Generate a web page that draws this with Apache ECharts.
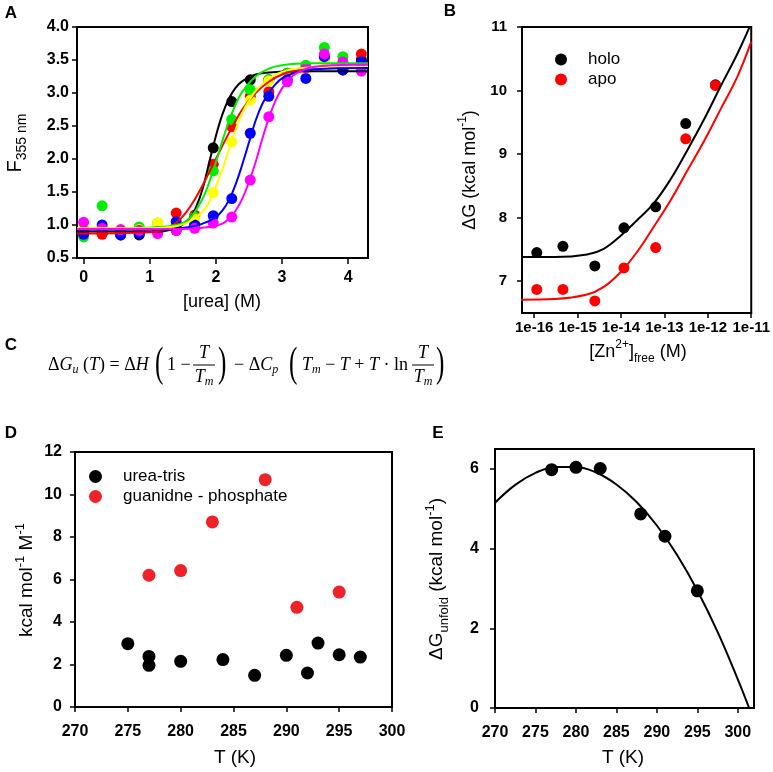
<!DOCTYPE html>
<html>
<head>
<meta charset="utf-8">
<script src="https://cdn.jsdelivr.net/npm/echarts@6.0.0/dist/echarts.min.js"></script>
<style>
html,body{margin:0;padding:0;background:#fff;}
#chart{width:773px;height:772px;}
</style>
</head>
<body>
<div id="chart"></div>
<script>
// ---------------- Panel A : urea denaturation ----------------
const ureaConc = [0, 0.28, 0.56, 0.84, 1.12, 1.4, 1.68, 1.96, 2.24, 2.52, 2.8, 3.08, 3.36, 3.64, 3.92, 4.2];
const fBlack   = [0.88,0.88,0.85,0.85,0.90,0.92,1.00,2.17,2.87,3.20,3.20,3.30,3.35,3.52,3.35,3.50];
const fRed     = [0.90,0.86,0.88,0.88,0.90,1.18,1.15,1.92,2.49,2.95,3.02,3.28,3.35,3.55,3.45,3.59];
const fGreen   = [0.82,1.29,0.92,0.97,1.03,1.00,1.12,1.82,2.60,3.05,3.20,3.30,3.42,3.69,3.55,3.40];
const fYellow  = [0.95,0.95,0.92,0.93,1.03,0.95,1.09,1.49,2.26,2.89,3.18,3.25,3.33,3.50,3.45,3.40];
const fBlue    = [0.86,1.00,0.85,0.87,0.90,1.05,1.00,1.14,1.40,2.39,2.95,3.20,3.22,3.55,3.35,3.47];
const fMagenta = [1.04,0.95,0.93,0.92,0.87,0.92,0.95,1.03,1.12,1.68,2.64,3.17,3.38,3.59,3.47,3.33];

const fitBlackX   = [-0.1,1.0,1.4,1.6,1.7,1.8,1.9,2.0,2.1,2.2,2.3,2.4,2.6,2.8,3.2,4.3];
const fitBlackY   = [0.90,0.90,0.95,1.10,1.27,1.55,1.95,2.35,2.68,2.92,3.08,3.18,3.28,3.31,3.33,3.33];
const fitRedX     = [-0.1,1.0,1.3,1.5,1.7,1.9,2.0,2.2,2.4,2.6,2.8,3.0,3.3,3.6,4.3];
const fitRedY     = [0.87,0.89,0.97,1.13,1.42,1.80,2.00,2.40,2.75,3.00,3.17,3.28,3.36,3.39,3.40];
const fitGreenX   = [-0.1,1.0,1.4,1.6,1.8,1.9,2.0,2.1,2.2,2.3,2.4,2.6,2.8,3.0,3.4,4.3];
const fitGreenY   = [0.95,0.96,1.00,1.10,1.40,1.65,1.95,2.28,2.58,2.83,3.02,3.25,3.37,3.42,3.45,3.45];
const fitYellowX  = [-0.1,1.0,1.4,1.6,1.8,1.9,2.0,2.1,2.2,2.3,2.4,2.5,2.6,2.8,3.0,3.3,4.3];
const fitYellowY  = [0.95,0.95,0.98,1.05,1.20,1.35,1.58,1.85,2.15,2.45,2.70,2.88,3.03,3.22,3.32,3.38,3.40];
const fitBlueX    = [-0.1,1.2,1.6,1.8,2.0,2.1,2.2,2.3,2.4,2.5,2.6,2.7,2.8,2.9,3.0,3.2,3.5,4.3];
const fitBlueY    = [0.93,0.93,0.97,1.02,1.12,1.22,1.38,1.62,1.92,2.25,2.58,2.83,3.00,3.13,3.22,3.31,3.36,3.38];
const fitMagentaX = [-0.1,1.5,1.9,2.1,2.2,2.3,2.4,2.5,2.6,2.7,2.8,2.9,3.0,3.1,3.2,3.4,3.6,4.3];
const fitMagentaY = [0.94,0.94,0.97,1.02,1.10,1.22,1.40,1.65,1.95,2.30,2.62,2.88,3.07,3.20,3.29,3.38,3.41,3.43];
const ureaTicks = [0, 1, 2, 3, 4];

// ---------------- Panel B : dG vs free zinc ----------------
const znTickExp = [-16, -15, -14, -13, -12, -11];
const znFree  = [1.15e-16, 4.6e-16, 2.5e-15, 1.17e-14, 6.3e-14, 3.1e-13, 1.5e-12];
const dgHolo  = [7.45, 7.55, 7.24, 7.84, 8.17, 9.48, 10.09];
const dgApo   = [6.87, 6.87, 6.69, 7.21, 7.53, 9.24, 10.08];
const fitZn   = [5.0e-17, 3.0e-16, 1.66e-15, 4.0e-15, 1e-14, 2.34e-14, 5.6e-14, 1.38e-13, 3.3e-13, 8.1e-13, 1.95e-12, 4.8e-12, 1e-11];
const fitHolo = [7.38, 7.38, 7.42, 7.51, 7.72, 7.96, 8.22, 8.60, 9.05, 9.54, 10.06, 10.58, 11.06];
const fitApo  = [6.71, 6.72, 6.79, 6.91, 7.15, 7.46, 7.85, 8.27, 8.73, 9.20, 9.70, 10.22, 10.77];
const dgTicksB = [7, 8, 9, 10, 11];

// ---------------- Panel D : m-values ----------------
const tUrea = [275, 277, 277, 280, 284, 287, 290, 292, 293, 295, 297];
const mUrea = [2.98, 2.38, 1.96, 2.15, 2.23, 1.49, 2.43, 1.60, 3.01, 2.46, 2.35];
const tGdn  = [277, 280, 283, 288, 291, 295];
const mGdn  = [6.20, 6.42, 8.71, 10.70, 4.69, 5.41];

// ---------------- Panel E : stability curve ----------------
const tE       = [277, 280, 283, 288, 291, 295];
const dgUnfold = [5.98, 6.04, 6.01, 4.87, 4.31, 2.94];
const fitT     = [270, 272.5, 275, 277.5, 280, 282.5, 285, 287.5, 290, 292.5, 295, 297.5, 300, 301.4];
const fitDG    = [5.15, 5.60, 5.90, 6.05, 6.05, 5.91, 5.61, 5.17, 4.58, 3.84, 2.95, 1.91, 0.72, 0.0];
const tTicksE  = [270, 275, 280, 285, 290, 295, 300];
const dgTicksE = [0, 2, 4, 6];

// ---------------- helpers ----------------
const sans = '"Liberation Sans", Arial, Helvetica, sans-serif';
const serif = '"Liberation Serif", "DejaVu Serif", serif';
const pair = (xs, ys, fx) => xs.map((x, i) => [fx ? fx(x) : x, ys[i]]);
const lg = v => Math.log10(v);
const SMOOTH = 0.4;

function axis(gridIndex, o) {
  const a = {
    type: 'value', gridIndex, min: o.min, max: o.max,
    axisLine: {show: true, onZero: false, lineStyle: {color: '#000', width: 2}},
    axisTick: {show: true, length: o.tickLen || 5, inside: false, lineStyle: {color: '#000', width: 1.5}},
    axisLabel: {color: '#000', fontWeight: 'bold', fontFamily: sans, fontSize: o.fs, margin: o.margin},
    splitLine: {show: false}
  };
  if (o.interval) a.interval = o.interval;
  if (o.custom) { a.axisTick.customValues = o.custom; a.axisLabel.customValues = o.custom; }
  if (o.fmt) a.axisLabel.formatter = o.fmt;
  return a;
}

const grids = [
  {left: 77, top: 27, width: 291, height: 231},
  {left: 522, top: 27, width: 230, height: 286},
  {left: 75, top: 452, width: 317, height: 255},
  {left: 495, top: 449, width: 259, height: 259}
].map(g => Object.assign(g, {show: true, borderColor: '#000', borderWidth: 2, backgroundColor: 'transparent'}));

const xAxes = [
  axis(0, {min: -0.1, max: 4.3, custom: ureaTicks, fs: 16, margin: 12, tickLen: 6}),
  axis(1, {min: -16.28, max: -11, custom: znTickExp, fs: 15, margin: 7, fmt: v => '1e' + v}),
  axis(2, {min: 270, max: 300, interval: 5, fs: 16, margin: 17}),
  axis(3, {min: 270, max: 302, custom: tTicksE, fs: 16, margin: 17})
];
const yAxes = [
  axis(0, {min: 0.5, max: 4, interval: 0.5, fs: 16, margin: 8, fmt: v => v.toFixed(1)}),
  axis(1, {min: 6.5, max: 11, custom: dgTicksB, fs: 15, margin: 15}),
  axis(2, {min: 0, max: 12, interval: 2, fs: 16, margin: 13}),
  axis(3, {min: 0, max: 6.5, custom: dgTicksE, fs: 16, margin: 16})
];

const aColors = ['#000000', '#ff0000', '#00ee00', '#ffff00', '#0000ff', '#ff00ff'];
const aPoints = [fBlack, fRed, fGreen, fYellow, fBlue, fMagenta];
const aFits = [[fitBlackX, fitBlackY], [fitRedX, fitRedY], [fitGreenX, fitGreenY],
               [fitYellowX, fitYellowY], [fitBlueX, fitBlueY], [fitMagentaX, fitMagentaY]];

const series = [];
aPoints.forEach((ys, i) => series.push({
  type: 'scatter', name: 'A-pts-' + i, xAxisIndex: 0, yAxisIndex: 0,
  data: pair(ureaConc, ys), symbolSize: 11, itemStyle: {color: aColors[i], opacity: 1}, z: 2 + i * 0.01
}));
aFits.forEach((f, i) => series.push({
  type: 'line', name: 'A-fit-' + i, xAxisIndex: 0, yAxisIndex: 0,
  data: pair(f[0], f[1]), showSymbol: false, smooth: SMOOTH,
  lineStyle: {color: aColors[i], width: 2}, z: 3 + i * 0.01
}));
series.push(
  {type: 'scatter', name: 'holo', xAxisIndex: 1, yAxisIndex: 1, data: pair(znFree, dgHolo, lg),
   symbolSize: 11, itemStyle: {color: '#000', opacity: 1}, z: 3},
  {type: 'scatter', name: 'apo', xAxisIndex: 1, yAxisIndex: 1, data: pair(znFree, dgApo, lg),
   symbolSize: 11, itemStyle: {color: '#ff0000', opacity: 1}, z: 3},
  {type: 'line', name: 'holo fit', xAxisIndex: 1, yAxisIndex: 1, data: pair(fitZn, fitHolo, lg),
   showSymbol: false, smooth: SMOOTH, lineStyle: {color: '#000', width: 2}, z: 4},
  {type: 'line', name: 'apo fit', xAxisIndex: 1, yAxisIndex: 1, data: pair(fitZn, fitApo, lg),
   showSymbol: false, smooth: SMOOTH, lineStyle: {color: '#ff0000', width: 2}, z: 4},
  {type: 'scatter', name: 'urea-tris', xAxisIndex: 2, yAxisIndex: 2, data: pair(tUrea, mUrea),
   symbolSize: 13, itemStyle: {color: '#000', opacity: 1}},
  {type: 'scatter', name: 'guanidne - phosphate', xAxisIndex: 2, yAxisIndex: 2, data: pair(tGdn, mGdn),
   symbolSize: 13, itemStyle: {color: '#ee2228', opacity: 1}},
  {type: 'scatter', name: 'E-pts', xAxisIndex: 3, yAxisIndex: 3, data: pair(tE, dgUnfold),
   symbolSize: 13, itemStyle: {color: '#000', opacity: 1}, z: 3},
  {type: 'line', name: 'E-fit', xAxisIndex: 3, yAxisIndex: 3, data: pair(fitT, fitDG),
   showSymbol: false, smooth: SMOOTH, lineStyle: {color: '#000', width: 2}, z: 4}
);

// ---------------- text graphics ----------------
const g = [];
function txt(x, y, rich, styles, opts) {
  const el = {type: 'text', x, y, silent: true, style: Object.assign({
    text: rich, rich: styles, fill: '#000', align: 'center', verticalAlign: 'middle'}, opts && opts.style || {})};
  if (opts && opts.rotation) el.rotation = opts.rotation;
  if (opts && opts.scaleX) el.scaleX = opts.scaleX;
  g.push(el);
}
function titleStyles(fs) {
  return {
    t: {fontFamily: sans, fontSize: fs, lineHeight: fs + 8, fill: '#000'},
    sub: {fontFamily: sans, fontSize: Math.round(fs * 0.68), lineHeight: Math.round(fs * 0.68), verticalAlign: 'bottom', fill: '#000'},
    sup: {fontFamily: sans, fontSize: Math.round(fs * 0.68), lineHeight: Math.round(fs * 0.68), verticalAlign: 'top', fill: '#000'}
  };
}
// panel letters
const letterSt = {L: {fontFamily: sans, fontWeight: 'bold', fontSize: 17, fill: '#000'}};
[['A', 11, 13], ['B', 450, 11], ['C', 11, 345], ['D', 11, 433], ['E', 438, 433]]
  .forEach(([s, x, y]) => txt(x, y, '{L|' + s + '}', letterSt));

// axis titles
txt(15, 143, '{t|F}{sub|355 nm}', titleStyles(20), {rotation: Math.PI / 2});
txt(222, 302, '{t|[urea] (M)}', titleStyles(18));
txt(470, 170, '{t|ΔG (kcal mol}{sup|-1}{t|)}', titleStyles(18), {rotation: Math.PI / 2});
txt(638, 352, '{t|[Zn}{sup|2+}{t|]}{sub|free}{t| (M)}', titleStyles(18));
txt(27, 580, '{t|kcal mol}{sup|-1}{t| M}{sup|-1}', titleStyles(19), {rotation: Math.PI / 2});
txt(235, 758, '{t|T (K)}', titleStyles(19));
txt(437, 579, '{t|ΔG}{sub|unfold}{t| (kcal mol}{sup|-1}{t|)}', titleStyles(19), {rotation: Math.PI / 2});
txt(623, 758, '{t|T (K)}', titleStyles(19));

// equation (panel C)
const eqY = 365;
const eqSt = {
  r: {fontFamily: serif, fontSize: 18, lineHeight: 22, fill: '#000'},
  i: {fontFamily: serif, fontSize: 18, fontStyle: 'italic', lineHeight: 22, fill: '#000'},
  sub: {fontFamily: serif, fontSize: 12, fontStyle: 'italic', lineHeight: 12, verticalAlign: 'bottom', fill: '#000'}
};
const parenSt = {p: {fontFamily: serif, fontSize: 42, fill: '#000'}};
const L = {style: {align: 'left'}};
const P = {style: {align: 'left'}, scaleX: 0.6};
txt(48, eqY, '{r|Δ}{i|G}{sub|u}{r| (}{i|T}{r|) = Δ}{i|H}', eqSt, L);
txt(155, eqY, '{p|(}', parenSt, P);
txt(167, eqY, '{r|1 − }', eqSt, L);
txt(204, eqY - 12, '{i|T}', eqSt);
txt(204, eqY + 12, '{i|T}{sub|m}', eqSt);
g.push({type: 'line', silent: true, shape: {x1: 193, y1: eqY, x2: 215, y2: eqY}, style: {stroke: '#000', lineWidth: 1}});
txt(218, eqY, '{p|)}', parenSt, P);
txt(234, eqY, '{r|− Δ}{i|C}{sub|p}', eqSt, L);
txt(289, eqY, '{p|(}', parenSt, P);
txt(302, eqY, '{i|T}{sub|m}{r| − }{i|T}{r| + }{i|T}{r| · ln}', eqSt, L);
txt(423, eqY - 12, '{i|T}', eqSt);
txt(423, eqY + 12, '{i|T}{sub|m}', eqSt);
g.push({type: 'line', silent: true, shape: {x1: 412, y1: eqY, x2: 434, y2: eqY}, style: {stroke: '#000', lineWidth: 1}});
txt(436, eqY, '{p|)}', parenSt, P);

const legendText = {fontFamily: sans, fontSize: 17, color: '#000', padding: [0, 0, 0, 16]};
const option = {
  animation: false,
  backgroundColor: '#fff',
  grid: grids,
  xAxis: xAxes,
  yAxis: yAxes,
  legend: [
    {data: ['holo', 'apo'], orient: 'vertical', left: 555, top: 51, icon: 'circle',
     itemWidth: 12, itemHeight: 12, itemGap: 3, padding: 0, textStyle: legendText, selectedMode: false},
    {data: ['urea-tris', 'guanidne - phosphate'], orient: 'vertical', left: 89, top: 468, icon: 'circle',
     itemWidth: 13, itemHeight: 13, itemGap: 3, padding: 0, textStyle: legendText, selectedMode: false}
  ],
  series,
  graphic: g
};
echarts.init(document.getElementById('chart')).setOption(option);
</script>
</body>
</html>
